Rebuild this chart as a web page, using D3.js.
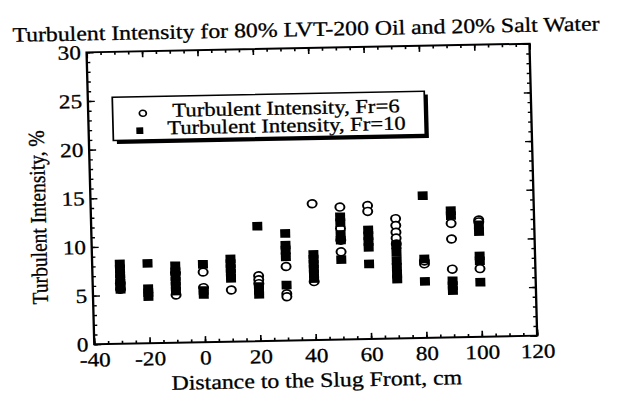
<!DOCTYPE html>
<html>
<head>
<meta charset="utf-8">
<script src="https://cdn.jsdelivr.net/npm/d3@7"></script>
<style>
  body { margin: 0; background: #fff; }
  text { font-family: "Liberation Serif", "Times New Roman", serif; fill: #000; stroke: #000; stroke-width: 0.3px; }
</style>
</head>
<body>
<script>
'use strict'

// values
var distance = [-30, -20, -10, 0, 10, 20, 30, 40, 50, 60, 70, 80, 90, 100]
var fr6 = [
  [6.2, 5.6], [], [7.2, 4.9], [7.2, 5.6], [5.3], [6.7, 6.3, 5.9], [7.6, 4.8, 4.5],
  [14.0, 6.0], [13.6, 11.4, 10.2, 9.0], [13.7, 13.1], [12.3, 11.6, 10.9, 10.3, 9.7],
  [7.6, 7.9], [11.7, 10.1, 7.0], [12.0, 11.8, 7.0]
]
var fr10 = [
  [8.2, 7.7, 7.2, 6.7, 6.2, 5.6], [8.2, 5.6, 5.2, 4.8], [7.9, 7.3, 6.8, 6.3, 5.8, 5.3],
  [8.0, 5.3, 4.9], [8.5, 8.0, 7.5, 7.0, 6.5], [11.8, 5.6, 5.2, 4.8], [11.0, 9.8, 9.3, 8.6, 5.7],
  [8.8, 8.3, 7.8, 7.3, 6.8, 6.3], [12.6, 12.0, 10.8, 10.2, 8.2], [11.2, 10.6, 10.0, 9.4, 7.7],
  [9.6, 8.9, 8.0, 7.3, 6.6, 6.1], [14.6, 8.1, 5.8], [13.0, 12.5, 5.8, 5.3, 4.8],
  [11.5, 10.8, 8.3, 7.8, 5.6]
]
var xTicks = [-40, -20, 0, 20, 40, 60, 80, 100, 120]
var yTicks = [0, 5, 10, 15, 20, 25, 30]
var legendLabels = ['Turbulent Intensity, Fr=6', 'Turbulent Intensity, Fr=10']

var W = 618, H = 402
var sx = 1.16 // the scan is a bit wider than it is tall
var vw = W / sx

var plot = {left: 77.9, right: 459.8, top: 48, bottom: 340}
var cx = 268.9, cy = 194

var x = d3.scaleLinear().domain([-40, 120]).range([plot.left, plot.right])
var y = d3.scaleLinear().domain([0, 30]).range([plot.bottom, plot.top])

var svg = d3.select('body').append('svg')
  .attr('width', W)
  .attr('height', H)
  .attr('viewBox', `0 0 ${vw} ${H}`)
  .attr('preserveAspectRatio', 'none')

var g = svg.append('g')
  .attr('transform', `rotate(-1.3, ${cx}, ${cy})`)

// title
g.append('text')
  .attr('x', 267.5)
  .attr('y', 36)
  .attr('text-anchor', 'middle')
  .attr('font-size', '20.5px')
  .text('Turbulent Intensity for 80% LVT-200 Oil and 20% Salt Water')

// frame
g.append('rect')
  .attr('x', plot.left)
  .attr('y', plot.top)
  .attr('width', plot.right - plot.left)
  .attr('height', plot.bottom - plot.top)
  .attr('fill', 'none')
  .attr('stroke', '#000')
  .attr('stroke-width', 2)

function styleAxis (sel) {
  sel.select('.domain').remove()
  sel.selectAll('line').attr('stroke', '#000').attr('stroke-width', 1.4)
  sel.selectAll('text').attr('font-size', '20px').style('font-family', '"Liberation Serif", serif')
}

var xMinor = d3.range(-40, 121, 5)
var yMinor = d3.range(0, 31, 1)

// bottom
g.append('g').attr('transform', `translate(0, ${plot.bottom})`)
  .call(d3.axisBottom(x).tickValues(xMinor).tickSize(-3).tickFormat(''))
  .call(styleAxis)
g.append('g').attr('transform', `translate(0, ${plot.bottom})`)
  .call(d3.axisBottom(x).tickValues(xTicks).tickSize(-6).tickPadding(8).tickFormat(d => String(d)))
  .call(styleAxis)
// top
g.append('g').attr('transform', `translate(0, ${plot.top})`)
  .call(d3.axisTop(x).tickValues(xMinor).tickSize(-3).tickFormat(''))
  .call(styleAxis)
g.append('g').attr('transform', `translate(0, ${plot.top})`)
  .call(d3.axisTop(x).tickValues(xTicks).tickSize(-6).tickFormat(''))
  .call(styleAxis)
// left
g.append('g').attr('transform', `translate(${plot.left}, 0)`)
  .call(d3.axisLeft(y).tickValues(yMinor).tickSize(-3).tickFormat(''))
  .call(styleAxis)
g.append('g').attr('transform', `translate(${plot.left}, 0)`)
  .call(d3.axisLeft(y).tickValues(yTicks).tickSize(-6).tickPadding(5).tickFormat(d3.format('d')))
  .call(styleAxis)
// right
g.append('g').attr('transform', `translate(${plot.right}, 0)`)
  .call(d3.axisRight(y).tickValues(yMinor).tickSize(-3).tickFormat(''))
  .call(styleAxis)
g.append('g').attr('transform', `translate(${plot.right}, 0)`)
  .call(d3.axisRight(y).tickValues(yTicks).tickSize(-6).tickFormat(''))
  .call(styleAxis)

// axis titles
g.append('text')
  .attr('x', 268.9)
  .attr('y', 387)
  .attr('text-anchor', 'middle')
  .attr('font-size', '20.5px')
  .text('Distance to the Slug Front, cm')

g.append('text')
  .attr('transform', 'translate(39, 212) rotate(-90)')
  .attr('text-anchor', 'middle')
  .attr('font-size', '19.5px')
  .text('Turbulent Intensity, %')

// points
function flatten (series) {
  var out = []
  series.forEach(function (vals, i) {
    vals.forEach(function (v) { out.push({x: distance[i], y: v}) })
  })
  return out
}

var sq = 8.6
g.append('g').selectAll('circle')
  .data(flatten(fr6))
  .enter().append('circle')
  .attr('cx', d => x(d.x))
  .attr('cy', d => y(d.y))
  .attr('r', 3.9)
  .attr('fill', '#fff')
  .attr('stroke', '#000')
  .attr('stroke-width', 1.7)

g.append('g').selectAll('rect')
  .data(flatten(fr10))
  .enter().append('rect')
  .attr('x', d => x(d.x) - sq / 2)
  .attr('y', d => y(d.y) - sq / 2)
  .attr('width', sq)
  .attr('height', sq)
  .attr('fill', '#000')

// legend
var lg = g.append('g')
var box = {x: 99, y: 93.4, w: 269, h: 43.3}
lg.append('rect')
  .attr('x', box.x + 3)
  .attr('y', box.y + 3.5)
  .attr('width', box.w)
  .attr('height', box.h)
  .attr('fill', '#000')
lg.append('rect')
  .attr('x', box.x)
  .attr('y', box.y)
  .attr('width', box.w)
  .attr('height', box.h)
  .attr('fill', '#fff')
  .attr('stroke', '#000')
  .attr('stroke-width', 1.5)

lg.append('circle')
  .attr('cx', 125)
  .attr('cy', 110)
  .attr('r', 3)
  .attr('fill', '#fff')
  .attr('stroke', '#000')
  .attr('stroke-width', 1.5)
lg.append('rect')
  .attr('x', 122 - 3)
  .attr('y', 127.3 - 3.3)
  .attr('width', 6)
  .attr('height', 6.6)
  .attr('fill', '#000')

lg.selectAll('text.legend')
  .data(legendLabels)
  .enter().append('text')
  .attr('class', 'legend')
  .attr('x', 248.5)
  .attr('y', (d, i) => [114, 131.5][i])
  .attr('text-anchor', 'middle')
  .attr('font-size', '19.5px')
  .text(d => d)
</script>
</body>
</html>
